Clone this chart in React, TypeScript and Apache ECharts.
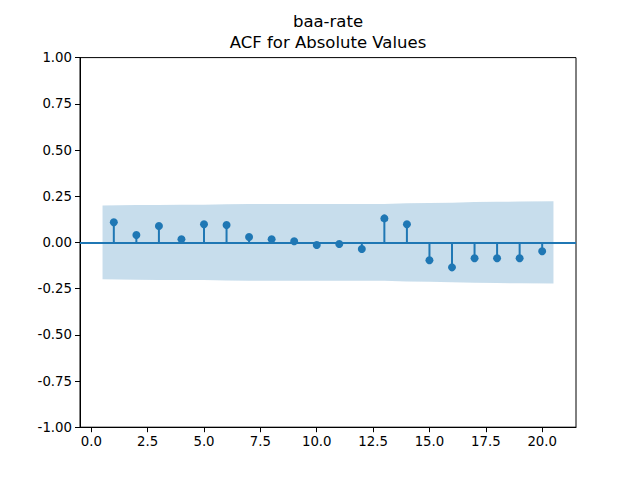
import React, { useEffect, useRef } from "react";
import * as echarts from "echarts";

const lags = [1, 2, 3, 4, 5, 6, 7, 8, 9, 10, 11, 12, 13, 14, 15, 16, 17, 18, 19, 20];
const acfValues = [
  0.109, 0.04, 0.089, 0.017, 0.098, 0.094, 0.029, 0.017, 0.006, -0.014,
  -0.009, -0.036, 0.13, 0.098, -0.097, -0.135, -0.086, -0.086, -0.086, -0.048,
];
const bandX = [0.5, 2, 3, 4, 5, 6, 7, 8, 9, 10, 11, 12, 13, 14, 15, 16, 17, 18, 19, 20.5];
const bandUpper = [
  0.2, 0.202, 0.203, 0.204, 0.204, 0.206, 0.208, 0.208, 0.208, 0.208,
  0.208, 0.208, 0.208, 0.212, 0.213, 0.215, 0.219, 0.22, 0.221, 0.223,
];
const bandLower = [
  -0.2, -0.202, -0.203, -0.204, -0.204, -0.206, -0.208, -0.208, -0.208, -0.208,
  -0.208, -0.208, -0.208, -0.212, -0.213, -0.215, -0.219, -0.22, -0.221, -0.223,
];
const xTicks = [0, 2.5, 5, 7.5, 10, 12.5, 15, 17.5, 20];
const titleLines = ["baa-rate", "ACF for Absolute Values"];

const BLUE = "#1f77b4";
const FONT = "DejaVu Sans";

export default function App() {
  const ref = useRef<HTMLDivElement>(null);
  useEffect(() => {
    if (!ref.current) return;
    const chart = echarts.init(ref.current, undefined, { renderer: "svg" });
    const pts = lags.map((l, i) => [l, acfValues[i]]);
    chart.setOption({
      animation: false,
      title: {
        text: titleLines.join("\n"),
        left: 328,
        top: 11,
        textAlign: "center",
        padding: 0,
        textStyle: {
          fontFamily: FONT,
          fontSize: 16.5,
          fontWeight: "normal",
          color: "#000",
          lineHeight: 21,
        },
      },
      grid: {
        left: 80,
        right: 64,
        top: 57.6,
        bottom: 52.8,
        show: true,
        borderColor: "#000",
        borderWidth: 1,
        backgroundColor: "transparent",
      },
      xAxis: {
        type: "value",
        min: -0.5,
        max: 21.5,
        axisLine: { show: true, onZero: false, lineStyle: { color: "#000", width: 1 } },
        axisTick: {
          show: true,
          length: 5,
          customValues: xTicks,
          lineStyle: { color: "#000" },
        },
        axisLabel: {
          customValues: xTicks,
          formatter: (v: number) => v.toFixed(1),
          fontFamily: FONT,
          fontSize: 13.3,
          color: "#000",
          margin: 8,
        },
        splitLine: { show: false },
      },
      yAxis: {
        type: "value",
        min: -1,
        max: 1,
        interval: 0.25,
        axisLine: { show: true, onZero: false, lineStyle: { color: "#000", width: 1 } },
        axisTick: { show: true, length: 5, lineStyle: { color: "#000" } },
        axisLabel: {
          formatter: (v: number) => v.toFixed(2),
          fontFamily: FONT,
          fontSize: 13.3,
          color: "#000",
          margin: 8,
        },
        splitLine: { show: false },
      },
      series: [
        {
          type: "line",
          data: bandX.map((x, i) => [x, bandUpper[i]]),
          symbol: "none",
          lineStyle: { width: 0 },
          areaStyle: { color: "rgba(31,119,180,0.25)", origin: 0, opacity: 1 },
          z: 1,
          silent: true,
        },
        {
          type: "line",
          data: bandX.map((x, i) => [x, bandLower[i]]),
          symbol: "none",
          lineStyle: { width: 0 },
          areaStyle: { color: "rgba(31,119,180,0.25)", origin: 0, opacity: 1 },
          z: 1,
          silent: true,
        },
        {
          type: "bar",
          data: pts,
          barWidth: 2,
          itemStyle: { color: BLUE },
          z: 3,
          markLine: {
            silent: true,
            symbol: "none",
            label: { show: false },
            lineStyle: { color: BLUE, width: 2, type: "solid" },
            data: [{ yAxis: 0 }],
          },
        },
        {
          type: "scatter",
          data: pts,
          symbol: "circle",
          symbolSize: 8,
          itemStyle: { color: BLUE, opacity: 1 },
          z: 4,
        },
      ],
    });
    return () => chart.dispose();
  }, []);
  return <div ref={ref} style={{ width: 640, height: 480, margin: -8 }} />;
}
